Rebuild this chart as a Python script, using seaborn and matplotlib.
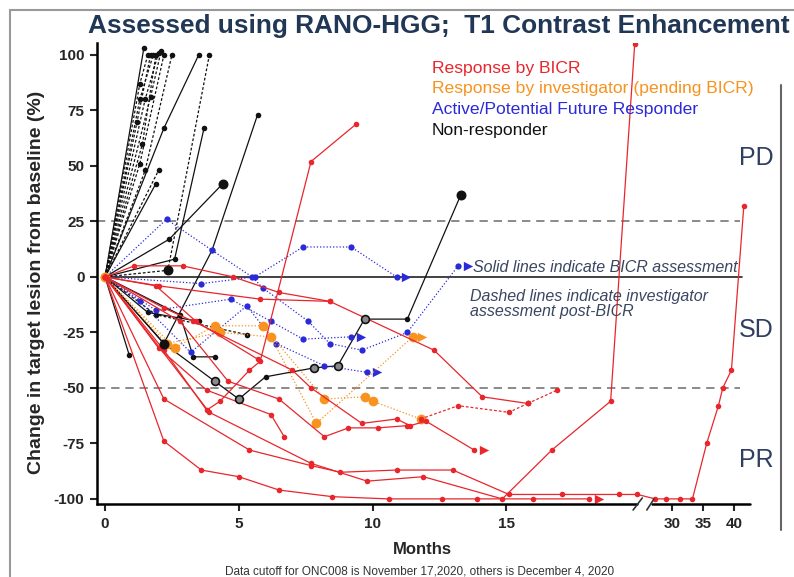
import numpy as np
import pandas as pd
import matplotlib
matplotlib.use('Agg')
import matplotlib.pyplot as plt
import seaborn as sns
from matplotlib.lines import Line2D

# Response by BICR (red): months and % change, one list per patient
bicr_months = [
    [0, 1.1, 2.9, 4.8, 6.5, 8.4, 12.3, 14.1, 15.8],
    [0, 2.0, 5.8, 8.4],
    [0, 2.2, 3.3, 7.0, 7.7, 9.6, 10.9, 11.4, 12.0, 13.8],
    [0, 2.8, 4.6, 6.5, 8.2, 9.1, 10.2, 11.3],
    [0, 2.2, 3.8, 4.3, 5.4, 5.8, 7.7, 9.4],
    [0, 2.0, 3.8, 6.2, 6.7],
    [0, 1.9, 3.4, 5.7],
    [0, 2.2, 5.4, 7.7, 8.8, 10.9, 13.0, 15.1, 17.1, 19.2, 19.9, 27.3, 29.1, 31.3, 33.3, 35.6, 37.5, 38.2, 39.6, 41.6],
    [0, 2.2, 3.6, 5.0, 6.5, 8.5, 10.6, 12.6, 13.9, 16.0, 18.1],
    [0, 3.9, 7.7, 9.8, 11.9, 14.85, 16.7, 18.9, 19.8],
    [15.8, 16.9],
    [11.8, 13.2, 15.1, 15.8],
]
bicr_change = [
    [0, 5, 5, 0, -7, -11, -33, -54, -57],
    [0, -4, -10, -11],
    [0, -14, -20, -42, -50, -66, -64, -67, -65, -78],
    [0, -20, -47, -55, -72, -68, -68, -67],
    [0, -33, -60, -56, -42, -38, 52, 69],
    [0, -32, -51, -62, -72],
    [0, -4, -20, -37],
    [0, -55, -78, -85, -88, -87, -87, -98, -98, -98, -98, -100, -100, -100, -100, -75, -58, -50, -42, 32],
    [0, -74, -87, -90, -96, -99, -100, -100, -100, -100, -100],
    [0, -61, -84, -92, -90, -100, -78, -56, 105],
    [-57, -51],
    [-64, -58, -61, -57],
]
bicr_dashed = [False] * 10 + [True, True]
bicr_arrow = [False, False, True, False, False, False, False, False, True, False, False, False]

# Response by investigator, pending BICR (orange)
inv_months = [
    [0, 2.6, 4.1, 5.9, 8.2, 9.7, 10.0, 11.8],
    [0, 2.3, 4.3, 6.2, 7.9, 11.5],
]
inv_change = [
    [0, -32, -22, -22, -55, -54, -56, -64],
    [0, -30, -25, -27, -66, -27],
]
inv_arrow = [False, True]

# Active / potential future responder (blue)
active_months = [
    [0, 2.3, 4.0, 5.5, 5.9, 7.6, 8.4, 9.6, 11.3, 13.2],
    [0, 3.6, 5.6, 7.4, 9.2, 10.9],
    [0, 1.3, 3.2, 5.3, 6.4, 8.2, 9.8],
    [0, 1.9, 4.7, 6.2, 7.4, 9.2],
]
active_change = [
    [0, 26, 12, 0, -5, -20, -30, -33, -25, 5],
    [0, -3, 0, 13.5, 13.5, 0],
    [0, -11, -34, -13, -30, -40, -43],
    [0, -15, -10, -20, -28, -27],
]
active_arrow = [True, True, True, True]

# Non-responders (black)
nonresp_months = [
    [0, 1.45], [0, 1.3, 1.6], [0, 1.3, 1.8], [0, 1.5, 2.0], [0, 1.7, 2.1],
    [0, 1.3, 2.2], [0, 1.5, 2.5], [0, 1.4, 1.9], [0, 1.2, 1.7],
    [0, 1.9], [0, 2.0], [0, 2.2, 3.5], [0, 2.35, 3.9], [0, 2.6, 3.7],
    [0, 2.4, 4.4], [0, 2.2, 4.0, 5.7], [0, 0.9], [0, 2.8, 3.3, 4.1],
    [0, 2.2, 4.1, 5.0, 6.0, 7.8, 8.7, 9.7, 11.3, 13.3],
    [0, 1.9, 5.3], [0, 1.6, 3.5],
]
nonresp_change = [
    [0, 103], [0, 87, 100], [0, 80, 100], [0, 80, 101], [0, 81, 102],
    [0, 51, 100], [0, 48, 100], [0, 60, 100], [0, 70, 100],
    [0, 42], [0, 48], [0, 67, 100], [0, 3, 100], [0, 8, 67],
    [0, 17, 42], [0, -30, 12, 73], [0, -35], [0, -17, -36, -36],
    [0, -30, -47, -55, -45, -41, -40, -19, -19, 37],
    [0, -17, -26], [0, -16, -20],
]
nonresp_dashed = [False, True, True, True, True, True, True, True, True,
                  False, True, False, True, False, False, False, False, False,
                  False, True, False]
nonresp_arrow = [False] * len(nonresp_months)

# enlarged black points and open-circle points
big_months = [2.2, 4.4, 13.3, 2.35]
big_change = [-30, 42, 37, 3]
open_months = [4.1, 5.0, 7.8, 8.7, 9.7]
open_change = [-47, -55, -41, -40, -19]

xticks = [0, 5, 10, 15, 30, 35, 40]
yticks = [-100, -75, -50, -25, 0, 25, 50, 75, 100]

RED = '#e8262c'
ORANGE = '#f7931e'
BLUE = '#2a2ad8'
BLACK = '#111111'
NAVY = '#203756'


# broken x axis: 0-20 linear, 26+ compressed
def fwd(x):
    x = np.asarray(x, dtype=float)
    return np.where(x <= 20, x, np.where(x <= 26, 20 + (x - 20) * 0.045, 20.27 + (x - 26) * 0.2313))


def inv(s):
    s = np.asarray(s, dtype=float)
    return np.where(s <= 20, s, np.where(s <= 20.27, 20 + (s - 20) / 0.045, 26 + (s - 20.27) / 0.2313))


def draw_group(ax, months, change, dashed, arrow, color, ms, dash):
    rows = []
    for i, (xs, ys, d) in enumerate(zip(months, change, dashed)):
        for x, y in zip(xs, ys):
            rows.append({'pid': i, 'months': x, 'change': y,
                         'line': 'dashed' if d else 'solid'})
    df = pd.DataFrame(rows)
    sns.lineplot(data=df, x='months', y='change', units='pid', estimator=None,
                 sort=False, style='line', dashes={'solid': '', 'dashed': dash},
                 markers={'solid': 'o', 'dashed': 'o'}, color=color, linewidth=0.9,
                 markersize=ms, markeredgewidth=0, legend=False, ax=ax)
    ends = pd.DataFrame([(xs[-1] + 0.35, ys[-1]) for xs, ys, a in zip(months, change, arrow) if a],
                        columns=['months', 'change'])
    if len(ends):
        sns.scatterplot(data=ends, x='months', y='change', marker='>', s=45,
                        color=color, linewidth=0, legend=False, ax=ax)


sns.set_style('ticks')
plt.rcParams['font.family'] = ['Liberation Sans', 'DejaVu Sans']
plt.rcParams['axes.unicode_minus'] = False

fig = plt.figure(figsize=(7.94, 5.77), dpi=100)
ax = fig.add_axes([97 / 794, 1 - 504 / 577, 653 / 794, 461 / 577])
ax.set_xscale('function', functions=(fwd, inv))

# reference lines
ax.axhline(25, xmin=0, xmax=0.985, color='#777777', lw=1.2, ls=(0, (5, 3.5)), zorder=1)
ax.axhline(-50, xmin=0, xmax=0.985, color='#777777', lw=1.2, ls=(0, (5, 3.5)), zorder=1)
ax.axhline(0, xmin=0.012, xmax=0.988, color='#222222', lw=1.2, zorder=1)

draw_group(ax, nonresp_months, nonresp_change, nonresp_dashed, nonresp_arrow, BLACK, 4, (2.2, 1.6))
draw_group(ax, active_months, active_change, [True] * 4, active_arrow, BLUE, 4.5, (1, 1.6))
draw_group(ax, inv_months, inv_change, [True] * 2, inv_arrow, ORANGE, 7, (1, 1.6))
draw_group(ax, bicr_months, bicr_change, bicr_dashed, bicr_arrow, RED, 4, (2.2, 1.6))

ax.scatter(big_months, big_change, s=38, color=BLACK, zorder=5)
ax.scatter(open_months, open_change, s=32, facecolor='#8a8a8a', edgecolor=BLACK, linewidth=1.2, zorder=5)

ax.set_xlim(-0.3, 42.6)
ax.set_ylim(-102.3, 105.4)
ax.set_xticks(xticks)
ax.set_xticklabels([str(t) for t in xticks])
ax.set_yticks(yticks)
ax.set_yticklabels([str(t) for t in yticks])
ax.tick_params(axis='both', direction='out', length=5, width=1.5, labelsize=11, pad=4)
for lab in ax.get_xticklabels() + ax.get_yticklabels():
    lab.set_fontweight('bold')
ax.set_xlabel('')
ax.set_ylabel('')
for s in ['top', 'right', 'bottom']:
    ax.spines[s].set_visible(False)
ax.spines['left'].set_linewidth(1.8)
ax.spines['left'].set_color('black')

# broken bottom axis
ax.plot([0, 0.827], [0, 0], transform=ax.transAxes, clip_on=False, color='black', lw=1.8)
ax.plot([0.85, 1.0], [0, 0], transform=ax.transAxes, clip_on=False, color='black', lw=1.8)
ax.plot([0.821, 0.835], [-0.013, 0.013], transform=ax.transAxes, clip_on=False, color='#333333', lw=1.2)
ax.plot([0.842, 0.853], [-0.013, 0.011], transform=ax.transAxes, clip_on=False, color='#333333', lw=1.2)

# texts
fig.text(439 / 794, 1 - 26 / 577, 'Assessed using RANO-HGG;  T1 Contrast Enhancement',
         ha='center', va='center', fontsize=18.9, fontweight='bold', color=NAVY)
fig.text(37 / 794, 1 - 282 / 577, 'Change in target lesion from baseline (%)', rotation=90,
         ha='center', va='center', fontsize=14, fontweight='bold')
fig.text(422 / 794, 1 - 550 / 577, 'Months', ha='center', va='center', fontsize=12, fontweight='bold')
fig.text(420 / 794, 1 - 572 / 577, 'Data cutoff for ONC008 is November 17,2020, others is December 4, 2020',
         ha='center', va='center', fontsize=8.5, color='#333333')

legend_items = [('Response by BICR', RED), ('Response by investigator (pending BICR)', ORANGE),
                ('Active/Potential Future Responder', BLUE), ('Non-responder', BLACK)]
for k, (label, col) in enumerate(legend_items):
    fig.text(432 / 794, 1 - (68 + k * 21) / 577, label, ha='left', va='center', fontsize=12.6, color=col)

for label, py in [('PD', 158), ('SD', 330), ('PR', 460)]:
    fig.text(756 / 794, 1 - py / 577, label, ha='center', va='center', fontsize=18, color='#2f3f5f')

fig.text(473 / 794, 1 - 267 / 577, 'Solid lines indicate BICR assessment', ha='left', va='center',
         fontsize=11.5, style='italic', color='#3a4660')
fig.text(470 / 794, 1 - 304 / 577, 'Dashed lines indicate investigator\nassessment post-BICR', ha='left',
         va='center', fontsize=11.5, style='italic', color='#3a4660', linespacing=1.0)

# slide frame and right bracket line
fig.add_artist(Line2D([10 / 794, 10 / 794], [0, 1 - 10 / 577], color='#999999', lw=1.5))
fig.add_artist(Line2D([10 / 794, 1], [1 - 10 / 577, 1 - 10 / 577], color='#999999', lw=1.5))
fig.add_artist(Line2D([781 / 794, 781 / 794], [1 - 85 / 577, 1 - 530 / 577], color='#666666', lw=1.5))

fig.savefig('out.png', dpi=100)
